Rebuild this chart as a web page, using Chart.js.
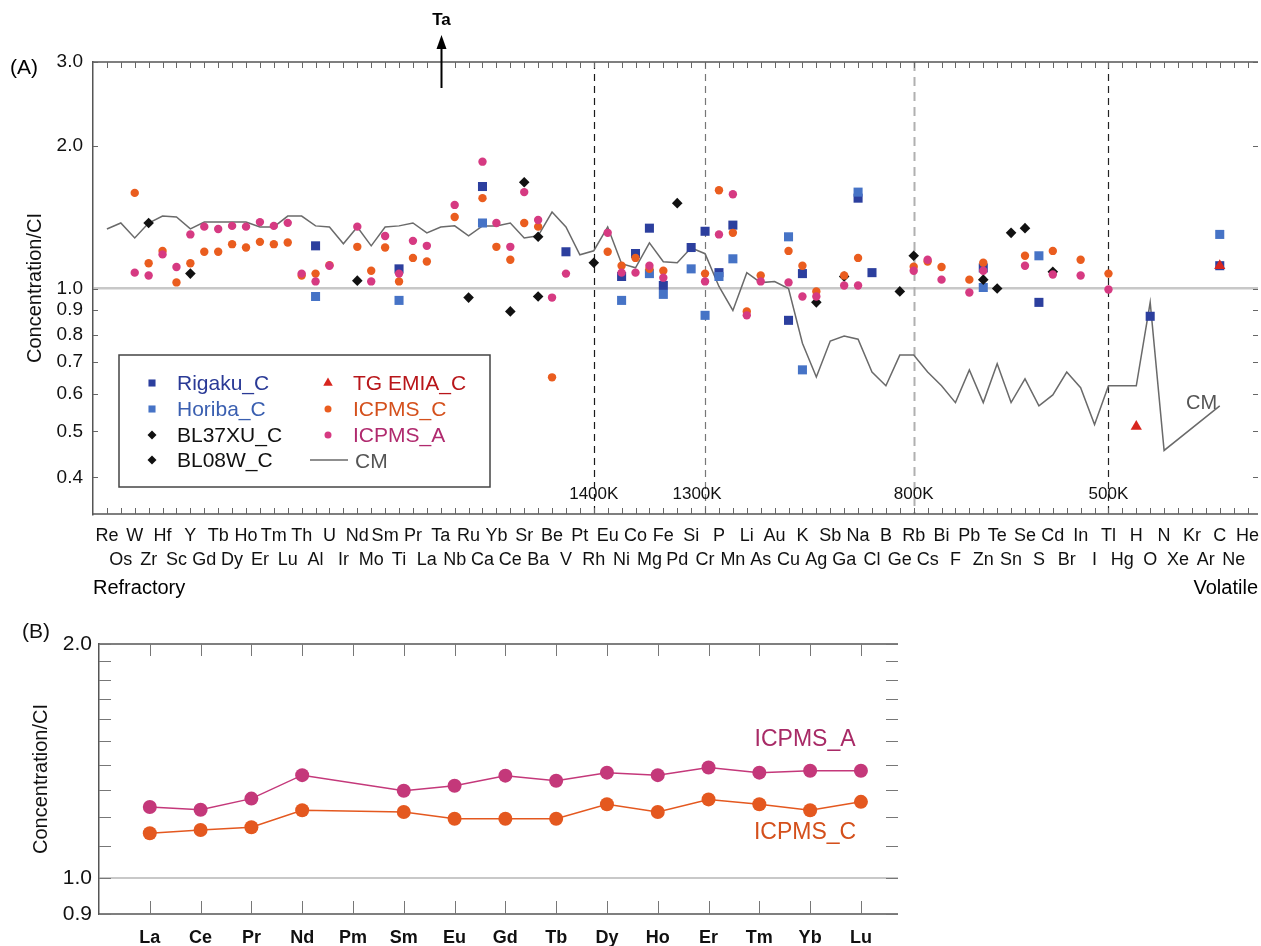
<!DOCTYPE html>
<html><head><meta charset="utf-8">
<script src="https://cdn.jsdelivr.net/npm/chart.js@4.4.1/dist/chart.umd.min.js"></script>
<style>
html,body{margin:0;padding:0;background:#fff;width:1261px;height:946px;overflow:hidden;position:relative}
#ca{position:absolute;left:0;top:0}
#cb{position:absolute;left:0;top:610px}
</style></head><body>
<canvas id="ca" width="1261" height="610"></canvas>
<canvas id="cb" width="920" height="336"></canvas>
<script>
// ---------- DATA: panel A ----------
const elements = ['Re','Os','W','Zr','Hf','Sc','Y','Gd','Tb','Dy','Ho','Er','Tm','Lu','Th','Al','U','Ir','Nd','Mo','Sm','Ti','Pr','La','Ta','Nb','Ru','Ca','Yb','Ce','Sr','Ba','Be','V','Pt','Rh','Eu','Ni','Co','Mg','Fe','Pd','Si','Cr','P','Mn','Li','As','Au','Cu','K','Ag','Sb','Ga','Na','Cl','B','Ge','Rb','Cs','Bi','F','Pb','Zn','Te','Sn','Se','S','Cd','Br','In','I','Tl','Hg','H','O','N','Xe','Kr','Ar','C','Ne','He'];
const yTicksA = [0.4,0.5,0.6,0.7,0.8,0.9,1.0,2.0,3.0];
const tempEls = ['Rh','Cr','Rb','Tl'];
const tempLabels = ['1400K','1300K','800K','500K'];

const rigakuEls = ['Al','Ti','Ca','V','Ni','Co','Mg','Fe','Si','Cr','P','Mn','Cu','K','Na','Cl','Zn','S','O','C'];
const rigakuVals = [1.23,1.10,1.64,1.195,1.06,1.185,1.34,1.015,1.22,1.32,1.08,1.36,0.857,1.075,1.55,1.08,1.105,0.935,0.874,1.117];

const horibaEls = ['Al','Ti','Ca','Ni','Mg','Fe','Si','Cr','P','Mn','Cu','K','Na','Zn','S','C'];
const horibaVals = [0.962,0.944,1.374,0.944,1.075,0.972,1.10,0.878,1.06,1.155,1.285,0.674,1.596,1.005,1.172,1.30];

const bl37Els = ['Zr','Y','Nd','Ru','Ce','Sr','Ba','Rh','Pd'];
const bl37Vals = [1.374,1.075,1.039,0.957,0.895,1.674,1.285,1.133,1.513];

const bl08Els = ['Ba','Ag','Ga','Ge','Rb','Zn','Te','Sn','Se','Cd'];
const bl08Vals = [0.962,0.935,1.06,0.986,1.172,1.044,1.0,1.31,1.34,1.085];

const tgEls = ['H','C'];
const tgVals = [0.512,1.117];

const icpmsCEls = ['W','Zr','Hf','Sc','Y','Gd','Tb','Dy','Ho','Er','Tm','Lu','Th','Al','U','Nd','Mo','Sm','Ti','Pr','La','Nb','Ca','Yb','Ce','Sr','Ba','Be','Eu','Ni','Co','Mg','Fe','Cr','P','Mn','Li','As','Cu','K','Ag','Ga','Na','Rb','Cs','Bi','Pb','Zn','Se','Cd','In','Tl'];
const icpmsCVals = [1.59,1.13,1.20,1.03,1.13,1.195,1.195,1.24,1.22,1.254,1.24,1.25,1.065,1.075,1.12,1.224,1.09,1.22,1.035,1.16,1.14,1.415,1.55,1.224,1.15,1.374,1.35,0.65,1.195,1.117,1.16,1.10,1.09,1.075,1.61,1.31,0.895,1.065,1.20,1.117,0.986,1.065,1.16,1.112,1.14,1.11,1.044,1.133,1.172,1.20,1.15,1.075];

const icpmsAEls = ['W','Zr','Hf','Sc','Y','Gd','Tb','Dy','Ho','Er','Tm','Lu','Th','Al','U','Nd','Mo','Sm','Ti','Pr','La','Nb','Ca','Yb','Ce','Sr','Ba','Be','V','Eu','Ni','Co','Mg','Fe','Cr','P','Mn','Li','As','Cu','K','Ag','Ga','Na','Rb','Cs','Bi','Pb','Zn','Se','Cd','In','Tl'];
const icpmsAVals = [1.08,1.065,1.18,1.11,1.30,1.35,1.335,1.355,1.35,1.38,1.355,1.375,1.075,1.035,1.117,1.35,1.035,1.29,1.075,1.26,1.23,1.50,1.85,1.374,1.224,1.596,1.394,0.957,1.075,1.31,1.08,1.08,1.117,1.054,1.035,1.30,1.58,0.878,1.035,1.03,0.962,0.962,1.015,1.015,1.09,1.15,1.044,0.981,1.09,1.117,1.07,1.065,0.995];

const cmVals = [1.335,1.374,1.278,1.374,1.421,1.415,1.335,1.381,1.381,1.381,
 1.381,1.348,1.348,1.421,1.421,1.355,1.348,1.242,1.348,1.230,
 1.348,1.355,1.374,1.31,1.348,1.355,1.291,1.355,1.355,1.374,
 1.278,1.291,1.449,1.348,1.178,1.201,1.348,1.128,1.106,1.248,
 1.139,1.133,1.218,1.184,1.01,0.899,1.08,1.029,1.034,1.0,
 0.767,0.651,0.775,0.794,0.782,0.667,0.624,0.724,0.724,0.667,
 0.624,0.575,0.674,0.575,0.694,0.575,0.645,0.566,0.597,0.667,
 0.618,0.517,0.624,0.624,0.624,0.935,0.456,null,null,null,
 0.566,null,null];

const legendOrder = ['Rigaku_C','Horiba_C','BL37XU_C','BL08W_C','TG EMIA_C','ICPMS_C','ICPMS_A','CM'];

// ---------- DATA: panel B ----------
const reeEls = ['La','Ce','Pr','Nd','Pm','Sm','Eu','Gd','Tb','Dy','Ho','Er','Tm','Yb','Lu'];
const reeIcpmsA = [1.235,1.225,1.266,1.357,null,1.296,1.315,1.355,1.335,1.367,1.357,1.388,1.367,1.375,1.375];
const reeIcpmsC = [1.143,1.154,1.163,1.223,null,1.217,1.193,1.193,1.193,1.245,1.217,1.263,1.245,1.223,1.254];
const yTicksB = [0.9,1.0,1.1,1.2,1.3,1.4,1.5,1.6,1.7,1.8,1.9,2.0];
const yLabelsB = [0.9,1.0,2.0];

// ---------- rendering ----------
const FAM = "'Liberation Sans', Arial, sans-serif";
const NAR = "'Liberation Sans Narrow', 'Liberation Sans', Arial, sans-serif";
Chart.defaults.font.family = FAM;
Chart.defaults.color = '#111';

function pts(els, vals){ return els.map((e,i)=>({x:elements.indexOf(e), y:vals[i]})); }

const tempStyle = [
  {color:'#1a1a1a', width:1.2, dash:[7,5], dx:0},
  {color:'#777', width:1.2, dash:[7,5], dx:-8},
  {color:'#b0b0b0', width:2, dash:[9,6], dx:0},
  {color:'#222', width:1.2, dash:[7,5], dx:0}
];

function drawMarker(ctx, style, r, x, y, color){
  ctx.fillStyle = color;
  ctx.beginPath();
  if (style==='rect'){ const s=r*Math.SQRT1_2; ctx.rect(x-s,y-s,2*s,2*s); }
  else if (style==='rectRot'){ ctx.moveTo(x-r,y); ctx.lineTo(x,y-r); ctx.lineTo(x+r,y); ctx.lineTo(x,y+r); ctx.closePath(); }
  else if (style==='triangle'){ ctx.moveTo(x,y-r); ctx.lineTo(x+r*0.866,y+r/2); ctx.lineTo(x-r*0.866,y+r/2); ctx.closePath(); }
  else { ctx.arc(x,y,r,0,Math.PI*2); }
  ctx.fill();
}

const annotA = {
  id:'annotA',
  beforeDatasetsDraw(chart){
    const {ctx, chartArea:a, scales:{x}} = chart;
    ctx.save();
    tempEls.forEach((el,k)=>{
      const st = tempStyle[k];
      const px = Math.round(x.getPixelForValue(elements.indexOf(el)))+0.5;
      ctx.strokeStyle = st.color; ctx.lineWidth = st.width; ctx.setLineDash(st.dash);
      ctx.beginPath(); ctx.moveTo(px, a.top); ctx.lineTo(px, a.bottom); ctx.stroke();
    });
    ctx.restore();
  },
  afterDraw(chart){
    const {ctx, chartArea:a, scales:{x,y}} = chart;
    ctx.save();
    ctx.strokeStyle = '#555'; ctx.lineWidth = 1.5;
    ctx.beginPath();
    ctx.moveTo(a.left, a.top); ctx.lineTo(a.right, a.top);
    ctx.moveTo(a.left, a.bottom); ctx.lineTo(a.right, a.bottom);
    ctx.stroke();
    ctx.lineWidth = 1; ctx.strokeStyle = '#666';
    ctx.beginPath();
    elements.forEach((e,i)=>{
      const px = Math.round(x.getPixelForValue(i))+0.5;
      ctx.moveTo(px,a.top); ctx.lineTo(px,a.top+6);
      ctx.moveTo(px,a.bottom); ctx.lineTo(px,a.bottom-6);
    });
    yTicksA.forEach(v=>{
      const py = Math.round(y.getPixelForValue(v))+0.5;
      ctx.moveTo(a.left,py); ctx.lineTo(a.left+5,py);
      ctx.moveTo(a.right,py); ctx.lineTo(a.right-5,py);
    });
    ctx.stroke();
    ctx.fillStyle = '#111'; ctx.font = "17px " + FAM; ctx.textAlign='center'; ctx.textBaseline='middle';
    tempEls.forEach((el,k)=>{
      const px = x.getPixelForValue(elements.indexOf(el)) + tempStyle[k].dx;
      ctx.fillText(tempLabels[k], px, a.bottom-20);
    });
    const tx = Math.round(x.getPixelForValue(elements.indexOf('Ta')))+0.5;
    ctx.strokeStyle='#000'; ctx.lineWidth=2; ctx.setLineDash([]);
    ctx.beginPath(); ctx.moveTo(tx, a.top+26); ctx.lineTo(tx, a.top-18); ctx.stroke();
    ctx.fillStyle='#000'; ctx.beginPath();
    ctx.moveTo(tx, a.top-27); ctx.lineTo(tx+5, a.top-13); ctx.lineTo(tx-5, a.top-13); ctx.closePath(); ctx.fill();
    ctx.font = "bold 17px " + FAM;
    ctx.fillText('Ta', tx, a.top-42);
    ctx.font = "21px " + FAM; ctx.textAlign='left';
    ctx.fillText('(A)', 10, a.top+6);
    ctx.font = "20px " + FAM;
    ctx.fillText('Refractory', a.left, a.bottom+74);
    ctx.textAlign='right';
    ctx.fillText('Volatile', a.right, a.bottom+74);
    ctx.textAlign='center'; ctx.fillStyle='#555'; ctx.font = "20px " + FAM;
    ctx.fillText('CM', x.getPixelForValue(78.7), y.getPixelForValue(0.572));
    // legend
    const L = a.left+26, T = a.top+293, W = 371, H = 132;
    ctx.fillStyle='#fff'; ctx.fillRect(L,T,W,H);
    ctx.strokeStyle='#444'; ctx.lineWidth=1.5; ctx.strokeRect(L,T,W,H);
    const rows=[28,54,80,105], markX=[33,209], textX=[58,234];
    ctx.font = "21px " + FAM; ctx.textAlign='left'; ctx.textBaseline='middle';
    legendOrder.forEach((name,k)=>{
      const d = chart.data.datasets.find(s=>s.label===name);
      const col = Math.floor(k/4), row = k%4;
      const yy = T+rows[row];
      if (d.showLine){
        ctx.strokeStyle = d.borderColor; ctx.lineWidth = 1.5;
        ctx.beginPath(); ctx.moveTo(L+191, yy); ctx.lineTo(L+229, yy); ctx.stroke();
        ctx.fillStyle = d.textColor; ctx.fillText(name, L+236, yy+2);
      } else {
        const r = d.pointStyle==='circle'?3.5:(d.pointStyle==='rect'?5:(d.pointStyle==='triangle'?5.5:4.5));
        drawMarker(ctx, d.pointStyle, r, L+markX[col], yy, d.backgroundColor);
        ctx.fillStyle = d.textColor; ctx.fillText(name, L+textX[col], yy+1);
      }
    });
    ctx.restore();
  }
};

const dsA = [
  {label:'ICPMS_A', data:pts(icpmsAEls, icpmsAVals), pointStyle:'circle', pointRadius:4.2, backgroundColor:'#d63a82', textColor:'#b02a6e'},
  {label:'ICPMS_C', data:pts(icpmsCEls, icpmsCVals), pointStyle:'circle', pointRadius:4.2, backgroundColor:'#ea5d1f', textColor:'#d4501c'},
  {label:'TG EMIA_C', data:pts(tgEls, tgVals), pointStyle:'triangle', pointRadius:6.5, backgroundColor:'#d8261f', textColor:'#b8161a'},
  {label:'BL37XU_C', data:pts(bl37Els, bl37Vals), pointStyle:'rectRot', pointRadius:5.3, backgroundColor:'#111', textColor:'#111'},
  {label:'BL08W_C', data:pts(bl08Els, bl08Vals), pointStyle:'rectRot', pointRadius:5.3, backgroundColor:'#111', textColor:'#111'},
  {label:'Horiba_C', data:pts(horibaEls, horibaVals), pointStyle:'rect', pointRadius:6.4, backgroundColor:'#4673c6', textColor:'#3a5fb0'},
  {label:'Rigaku_C', data:pts(rigakuEls, rigakuVals), pointStyle:'rect', pointRadius:6.4, backgroundColor:'#2c3f9e', textColor:'#2a3a96'},
  {label:'CM', data:elements.map((e,i)=>({x:i, y:cmVals[i]})), showLine:true, spanGaps:true, borderColor:'#6a6a6a', borderWidth:1.5, pointRadius:0, textColor:'#555'}
].map(d=>Object.assign({showLine:false, pointBorderWidth:0, pointHoverRadius:0}, d, {pointBackgroundColor:d.backgroundColor || 'transparent'}));

new Chart(document.getElementById('ca'), {
  type:'scatter',
  data:{datasets:dsA},
  options:{
    responsive:false, animation:false, events:[],
    layout:{padding:{left:0, top:62, right:3, bottom:0}, autoPadding:false},
    plugins:{legend:{display:false}, tooltip:{enabled:false}},
    scales:{
      x:{type:'linear', min:-1, max:82.75, bounds:'data',
         afterBuildTicks(s){ s.ticks = elements.map((e,i)=>({value:i})); },
         afterFit(s){ s.height = 96; s.paddingLeft = 0; s.paddingRight = 0; },
         ticks:{autoSkip:false, maxRotation:0, minRotation:0, padding:11, color:'#111',
                font:{family:NAR, size:18, lineHeight:1.28},
                callback:(v)=> (v%2===0) ? [elements[v], ''] : ['', elements[v]]},
         grid:{display:false, drawTicks:false}, border:{display:false}},
      y:{type:'logarithmic', min:0.335, max:3.0, bounds:'data',
         afterBuildTicks(s){ s.ticks = yTicksA.map(v=>({value:v})); },
         afterFit(s){ s.width = 93; s.paddingTop = 0; s.paddingBottom = 0; },
         ticks:{padding:10, color:'#111', font:{size:19}, callback:(v)=>Number(v).toFixed(1)},
         grid:{drawTicks:false, color:(c)=> (c.tick && c.tick.value===1) ? '#c8c8c8' : 'rgba(0,0,0,0)', lineWidth:2.5},
         border:{display:true, color:'#555', width:1.5},
         title:{display:true, text:'Concentration/CI', color:'#111', font:{size:20}, padding:{top:23, bottom:0}}}
    }
  },
  plugins:[annotA]
});

// ---------- panel B ----------
const annotB = {
  id:'annotB',
  afterDraw(chart){
    const {ctx, chartArea:a, scales:{x,y}} = chart;
    ctx.save();
    ctx.strokeStyle='#555'; ctx.lineWidth=1.5;
    ctx.beginPath();
    ctx.moveTo(a.left,a.top); ctx.lineTo(a.right,a.top);
    ctx.moveTo(a.left,a.bottom); ctx.lineTo(a.right,a.bottom);
    ctx.stroke();
    ctx.lineWidth=1; ctx.strokeStyle='#777';
    ctx.beginPath();
    reeEls.forEach((e,i)=>{
      const px = Math.round(x.getPixelForValue(i))+0.5;
      ctx.moveTo(px,a.top); ctx.lineTo(px,a.top+12);
      ctx.moveTo(px,a.bottom); ctx.lineTo(px,a.bottom-13);
    });
    yTicksB.forEach(v=>{
      const py = Math.round(y.getPixelForValue(v))+0.5;
      ctx.moveTo(a.left,py); ctx.lineTo(a.left+12,py);
      ctx.moveTo(a.right,py); ctx.lineTo(a.right-12,py);
    });
    ctx.stroke();
    ctx.fillStyle='#111'; ctx.font="21px "+FAM; ctx.textAlign='left'; ctx.textBaseline='middle';
    ctx.fillText('(B)', 22, a.top-12);
    ctx.font = "23px " + NAR; ctx.textAlign='center';
    chart.data.datasets.forEach(d=>{
      ctx.fillStyle = d.textColor;
      ctx.fillText(d.label, x.getPixelForValue(d.labelAt[0]), y.getPixelForValue(d.labelAt[1]));
    });
    ctx.restore();
  }
};

new Chart(document.getElementById('cb'), {
  type:'line',
  data:{datasets:[
    {label:'ICPMS_A', data:reeEls.map((e,i)=>({x:i,y:reeIcpmsA[i]})), borderColor:'#c4387a', backgroundColor:'#c4387a', pointBackgroundColor:'#c4387a', pointBorderWidth:0, pointRadius:7, pointHoverRadius:7, borderWidth:1.5, spanGaps:true, textColor:'#a82a66', labelAt:[12.9,1.505]},
    {label:'ICPMS_C', data:reeEls.map((e,i)=>({x:i,y:reeIcpmsC[i]})), borderColor:'#e4581f', backgroundColor:'#e4581f', pointBackgroundColor:'#e4581f', pointBorderWidth:0, pointRadius:7, pointHoverRadius:7, borderWidth:1.5, spanGaps:true, textColor:'#d4501c', labelAt:[12.9,1.144]}
  ]},
  options:{
    responsive:false, animation:false, events:[],
    layout:{padding:{left:0, top:34, right:22, bottom:0}, autoPadding:false},
    plugins:{legend:{display:false}, tooltip:{enabled:false}},
    scales:{
      x:{type:'linear', min:-1, max:14.73, bounds:'data',
         afterBuildTicks(s){ s.ticks = reeEls.map((e,i)=>({value:i})); },
         afterFit(s){ s.height = 32; s.paddingLeft = 0; s.paddingRight = 0; },
         ticks:{autoSkip:false, maxRotation:0, minRotation:0, padding:13, color:'#111',
                font:{size:18, weight:'bold'}, callback:(v)=>reeEls[v]},
         grid:{display:false, drawTicks:false}, border:{display:false}},
      y:{type:'logarithmic', min:0.9, max:2.0, bounds:'data',
         afterBuildTicks(s){ s.ticks = yLabelsB.map(v=>({value:v})); },
         afterFit(s){ s.width = 99; s.paddingTop = 0; s.paddingBottom = 0; },
         ticks:{padding:7, color:'#111', font:{size:21}, callback:(v)=>Number(v).toFixed(1)},
         grid:{drawTicks:false, color:(c)=> (c.tick && c.tick.value===1) ? '#c8c8c8' : 'rgba(0,0,0,0)', lineWidth:2},
         border:{display:true, color:'#555', width:1.5},
         title:{display:true, text:'Concentration/CI', color:'#111', font:{size:20}, padding:{top:29, bottom:0}}}
    }
  },
  plugins:[annotB]
});
</script>
</body></html>
